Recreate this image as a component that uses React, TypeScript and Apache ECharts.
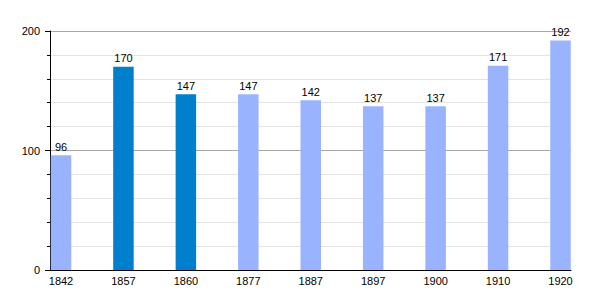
import React, { useEffect, useRef } from "react";
import * as echarts from "echarts";

const years = ["1842", "1857", "1860", "1877", "1887", "1897", "1900", "1910", "1920"];
const population = [96, 170, 147, 147, 142, 137, 137, 171, 192];
const highlighted = [false, true, true, false, false, false, false, false, false];
const yTicks = [0, 100, 200];

const LIGHT = "#99b3ff";
const DARK = "#0080cc";
const FONT = "Liberation Sans, Arial, sans-serif";

export default function App() {
  const ref = useRef<HTMLDivElement>(null);
  useEffect(() => {
    if (!ref.current) return;
    const chart = echarts.init(ref.current, null, { renderer: "svg" });
    const top = 31;
    const bottom = 30;
    chart.setOption({
      animation: false,
      textStyle: { fontFamily: FONT },
      grid: [
        { left: 50, right: 29, top, bottom },
        { left: 61, right: 39.5, top, bottom },
      ],
      xAxis: [
        {
          gridIndex: 0,
          type: "value",
          min: 0,
          max: 1,
          axisLine: { show: true, onZero: false, lineStyle: { color: "#000", width: 1 } },
          axisTick: { show: false },
          axisLabel: { show: false },
          splitLine: { show: false },
        },
        {
          gridIndex: 1,
          type: "category",
          data: years,
          boundaryGap: false,
          axisLine: { show: false },
          axisTick: { show: false },
          axisLabel: { color: "#000", fontSize: 11, fontFamily: FONT, margin: 5, interval: 0 },
          splitLine: { show: false },
        },
      ],
      yAxis: [
        {
          gridIndex: 0,
          type: "value",
          min: yTicks[0],
          max: yTicks[yTicks.length - 1],
          interval: 100,
          axisLine: { show: true, lineStyle: { color: "#000", width: 1 } },
          axisTick: { show: true, length: 5, lineStyle: { color: "#000" } },
          minorTick: { show: true, splitNumber: 5, length: 3, lineStyle: { color: "#000" } },
          axisLabel: { color: "#000", fontSize: 11, fontFamily: FONT, margin: 10 },
          splitLine: { show: true, lineStyle: { color: "#a8a8a8", width: 1 } },
          minorSplitLine: { show: true, lineStyle: { color: "#e3e3e3", width: 1 } },
        },
        {
          gridIndex: 1,
          type: "value",
          min: yTicks[0],
          max: yTicks[yTicks.length - 1],
          show: false,
          splitLine: { show: false },
        },
      ],
      series: [
        {
          type: "bar",
          xAxisIndex: 1,
          yAxisIndex: 1,
          barWidth: 20.5,
          data: population.map((v, i) => ({
            value: v,
            itemStyle: { color: highlighted[i] ? DARK : LIGHT },
          })),
          label: {
            show: true,
            position: "top",
            distance: 3,
            color: "#000",
            fontSize: 11,
            fontFamily: FONT,
          },
        },
      ],
    });
    return () => chart.dispose();
  }, []);
  return <div ref={ref} style={{ width: 600, height: 300, position: "absolute", left: 0, top: 0 }} />;
}
